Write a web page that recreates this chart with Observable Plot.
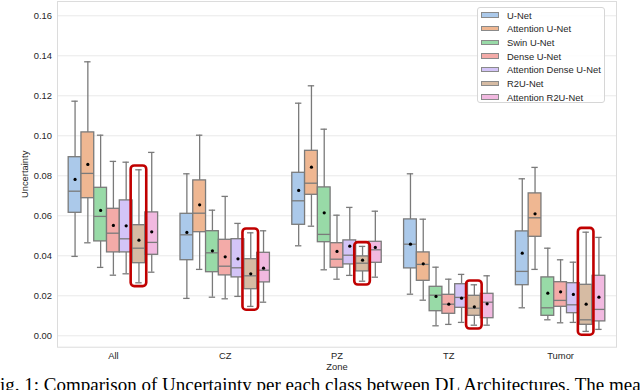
<!DOCTYPE html>
<html>
<head>
<meta charset="utf-8">
<script src="https://cdn.jsdelivr.net/npm/d3@7"></script>
<script src="https://cdn.jsdelivr.net/npm/@observablehq/plot@0.6"></script>
<style>
  html, body { margin: 0; padding: 0; background: #fff; }
  #wrap { position: relative; width: 640px; height: 390px; overflow: hidden; }
  #legend { position: absolute; left: 476.5px; top: 7px; width: 128px; height: 96px;
    border: 1px solid #d6d6d6; border-radius: 3px; background: rgba(255,255,255,0.85);
    box-sizing: border-box; font-family: "Liberation Sans", Arial, sans-serif; font-size: 9.4px; color: #262626; }
  .item { position: absolute; left: 3px; height: 13px; display: flex; align-items: center; white-space: nowrap; }
  .patch { width: 18.5px; height: 5.5px; margin-right: 8px; border: 0.8px solid #8a8a8a; box-sizing: border-box; }
  #caption { position: absolute; left: -10.5px; top: 375px; white-space: nowrap;
    font-family: "Liberation Serif", "Times New Roman", serif; font-size: 19px; line-height: 19px; color: #000; }
</style>
</head>
<body>
<div id="wrap"><div id="chart"></div><div id="legend"></div><div id="caption"></div></div>
<script>
const zones = ["All", "CZ", "PZ", "TZ", "Tumor"];
const models = ["U-Net", "Attention U-Net", "Swin U-Net", "Dense U-Net", "Attention Dense U-Net", "R2U-Net", "Attention R2U-Net"];
const highlighted = "R2U-Net";
const yTicks = [0, 0.02, 0.04, 0.06, 0.08, 0.10, 0.12, 0.14, 0.16];

// rows = zones, columns = models
const whiskerLow = [
  [0.0397, 0.0465, 0.0342, 0.0303, 0.0310, 0.0265, 0.0318],
  [0.0187, 0.0332, 0.0193, 0.0185, 0.0197, 0.0147, 0.0168],
  [0.0450, 0.0548, 0.0330, 0.0283, 0.0302, 0.0273, 0.0293],
  [0.0208, 0.0178, 0.0050, 0.0057, 0.0067, 0.0053, 0.0053],
  [0.0140, 0.0332, 0.0080, 0.0065, 0.0067, 0.0022, 0.0032]
];
const q1 = [
  [0.0615, 0.0688, 0.0472, 0.0417, 0.0417, 0.0363, 0.0405],
  [0.0378, 0.0518, 0.0318, 0.0302, 0.0292, 0.0233, 0.0267],
  [0.0555, 0.0705, 0.0468, 0.0340, 0.0357, 0.0322, 0.0365],
  [0.0337, 0.0275, 0.0123, 0.0110, 0.0140, 0.0100, 0.0088],
  [0.0253, 0.0495, 0.0100, 0.0145, 0.0113, 0.0055, 0.0072]
];
const median = [
  [0.0723, 0.0812, 0.0597, 0.0513, 0.0485, 0.0438, 0.0467],
  [0.0505, 0.0613, 0.0415, 0.0348, 0.0340, 0.0300, 0.0328],
  [0.0675, 0.0763, 0.0507, 0.0383, 0.0403, 0.0363, 0.0430],
  [0.0458, 0.0357, 0.0203, 0.0158, 0.0192, 0.0138, 0.0168],
  [0.0322, 0.0590, 0.0140, 0.0177, 0.0155, 0.0080, 0.0132]
];
const q3 = [
  [0.0893, 0.1017, 0.0740, 0.0635, 0.0677, 0.0553, 0.0617],
  [0.0610, 0.0777, 0.0523, 0.0480, 0.0483, 0.0383, 0.0415],
  [0.0815, 0.0925, 0.0742, 0.0463, 0.0477, 0.0397, 0.0470],
  [0.0582, 0.0417, 0.0245, 0.0205, 0.0258, 0.0200, 0.0210],
  [0.0522, 0.0712, 0.0292, 0.0268, 0.0263, 0.0255, 0.0300]
];
const whiskerHigh = [
  [0.1173, 0.1370, 0.1003, 0.0872, 0.0868, 0.0830, 0.0917],
  [0.0810, 0.1003, 0.0628, 0.0697, 0.0562, 0.0515, 0.0525],
  [0.1163, 0.1250, 0.1033, 0.0603, 0.0642, 0.0447, 0.0623],
  [0.0810, 0.0583, 0.0343, 0.0283, 0.0307, 0.0255, 0.0300],
  [0.0785, 0.0842, 0.0438, 0.0380, 0.0368, 0.0518, 0.0492]
];
const mean = [
  [0.0782, 0.0857, 0.0627, 0.0552, 0.0550, 0.0478, 0.0520],
  [0.0517, 0.0655, 0.0425, 0.0395, 0.0385, 0.0310, 0.0338],
  [0.0727, 0.0843, 0.0615, 0.0422, 0.0448, 0.0378, 0.0442],
  [0.0458, 0.0360, 0.0197, 0.0158, 0.0188, 0.0145, 0.0160],
  [0.0413, 0.0610, 0.0213, 0.0220, 0.0207, 0.0158, 0.0193]
];
const captionText = "Fig. 1: Comparison of Uncertainty per each class between DL Architectures. The mean";

// seaborn "pastel" palette, desaturated like seaborn boxplot (saturation .75)
const pastel = ["#a1c9f4", "#ffb482", "#8de5a1", "#ff9f9b", "#d0bbff", "#debb9b", "#fab0e4"];
const palette = pastel.map(c => { const h = d3.hsl(c); h.s *= 0.75; return h.formatHex(); });
const lineColor = "#7a7a7a";

const rows = [];
zones.forEach((z, zi) => models.forEach((m, mi) => rows.push({
  zone: z, zi, model: m, mi,
  lo: whiskerLow[zi][mi], q1: q1[zi][mi], med: median[zi][mi],
  q3: q3[zi][mi], hi: whiskerHigh[zi][mi], mean: mean[zi][mi]
})));

const W = 0.8 / models.length;
const cx = d => d.zi + (d.mi - (models.length - 1) / 2) * W;
const bx1 = d => cx(d) - W / 2, bx2 = d => cx(d) + W / 2;
const cx1 = d => cx(d) - W / 4, cx2 = d => cx(d) + W / 4;
const pad = 0.0019;

const chart = Plot.plot({
  width: 640,
  height: 372,
  marginLeft: 57,
  marginRight: 24,
  marginTop: 1,
  marginBottom: 25.3,
  style: { fontFamily: "Liberation Sans, Arial, sans-serif", fontSize: "9.4px", color: "#262626", background: "#fff" },
  x: {
    domain: [-0.5, zones.length - 0.5],
    ticks: zones.map((z, i) => i),
    tickFormat: i => zones[i],
    tickSize: 0, tickPadding: 5,
    label: "Zone", labelAnchor: "center", labelArrow: "none", labelOffset: 23
  },
  y: {
    domain: [-0.0057, 0.16715],
    ticks: yTicks,
    tickFormat: d3.format(".2f"),
    tickSize: 0, tickPadding: 5.5,
    grid: true,
    label: "Uncertainty", labelAnchor: "center", labelArrow: "none", labelOffset: 36
  },
  color: { domain: models, range: palette },
  marks: [
    Plot.frame({ stroke: "#dcdcdc" }),
    Plot.ruleX(rows, { x: cx, y1: "lo", y2: "q1", stroke: lineColor, strokeWidth: 1.3 }),
    Plot.ruleX(rows, { x: cx, y1: "q3", y2: "hi", stroke: lineColor, strokeWidth: 1.3 }),
    Plot.ruleY(rows, { y: "lo", x1: cx1, x2: cx2, stroke: lineColor, strokeWidth: 1.3 }),
    Plot.ruleY(rows, { y: "hi", x1: cx1, x2: cx2, stroke: lineColor, strokeWidth: 1.3 }),
    Plot.rect(rows, { x1: bx1, x2: bx2, y1: "q1", y2: "q3", fill: "model", stroke: lineColor, strokeWidth: 1.3 }),
    Plot.ruleY(rows, { y: "med", x1: bx1, x2: bx2, stroke: lineColor, strokeWidth: 1.3 }),
    Plot.dot(rows, { x: cx, y: "mean", r: 1.6, fill: "black", stroke: "none" }),
    Plot.rect(rows.filter(d => d.model === highlighted), {
      x1: bx1, x2: bx2, y1: d => d.lo - pad, y2: d => d.hi + pad,
      insetLeft: -1.4, insetRight: -1.4,
      fill: "none", stroke: "#c00000", strokeWidth: 2.6, rx: 3.5
    })
  ]
});
document.getElementById("chart").appendChild(chart);

const legend = document.getElementById("legend");
models.forEach((m, i) => {
  const it = document.createElement("div");
  it.className = "item";
  it.style.top = (0.5 + i * 13.67) + "px";
  const p = document.createElement("span");
  p.className = "patch";
  p.style.background = palette[i];
  const t = document.createElement("span");
  t.textContent = m;
  it.appendChild(p); it.appendChild(t);
  legend.appendChild(it);
});
document.getElementById("caption").textContent = captionText;
</script>
</body>
</html>
